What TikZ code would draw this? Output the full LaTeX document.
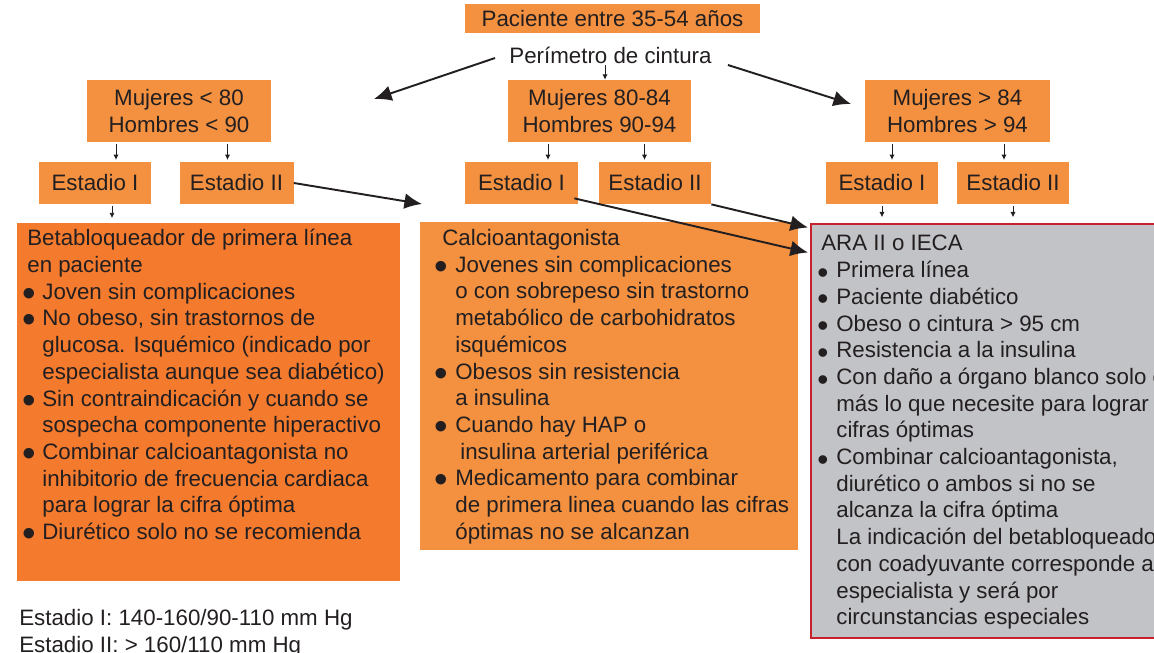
\documentclass[tikz,border=0pt]{standalone}
\usepackage{fontspec}
\setmainfont{Liberation Sans}
\usetikzlibrary{arrows.meta}
\definecolor{boxorange}{HTML}{F39140}
\definecolor{darkorange}{HTML}{F47A2E}
\definecolor{boxgrey}{HTML}{C2C3C7}
\definecolor{boxred}{HTML}{C8202F}
\definecolor{ink}{HTML}{231F20}
\newlength\px \setlength\px{0.02cm}
\newcommand\itm[1]{\makebox[#1\px][l]{\raisebox{-4pt}[0pt][0pt]{\fontsize{22}{22}\selectfont\textbullet}}}
\newcommand\itmb[1]{\makebox[#1\px][l]{\raisebox{-3.2pt}[0pt][0pt]{\fontsize{18}{18}\selectfont\textbullet}}}
\newcommand\cnt[1]{\hspace*{#1\px}}

\begin{document}
\begin{tikzpicture}[x=0.02cm,y=-0.02cm,
    box/.style={fill=boxorange,text=ink,inner sep=0pt,align=center,font=\fontsize{12.7}{15.2}\selectfont},
    boxsize/.style 2 args={minimum width=#1*0.02cm,minimum height=#2*0.02cm},
    listtext/.style={inner sep=0pt,anchor=north west,align=left,text=ink,font=\fontsize{12.7}{15.2}\selectfont},
    bigarrow/.style={draw=ink,line width=1.1pt,-{Latex[length=10pt,width=9pt]}},
    tinyarrow/.style={draw=ink,line width=0.5pt,-{Latex[length=3pt,width=3pt]},shorten <=1pt}]
  \useasboundingbox (0,0) rectangle (1154,653);
  \fill[white] (0,0) rectangle (1154,653);
  \clip (0,0) rectangle (1154,653);

  % top
  \node[box,boxsize={295}{29}] (pac) at (612.5,18.5) {Paciente entre 35-54 años};
  \node[box,fill=none] (perim) at (610.5,55) {Perímetro de cintura};

  % waist groups
  \node[box,boxsize={184}{62}] (mL) at (179,111) {Mujeres < 80\\Hombres < 90};
  \node[box,boxsize={183}{62}] (mM) at (599.5,111) {Mujeres 80-84\\Hombres 90-94};
  \node[box,boxsize={185}{62}] (mR) at (957.5,111) {Mujeres > 84\\Hombres > 94};

  % stages
  \node[box,boxsize={112}{42}] (eL1) at (95,183) {Estadio I};
  \node[box,boxsize={114}{42}] (eL2) at (236.5,183) {Estadio II};
  \node[box,boxsize={113}{42}] (eM1) at (521.5,183) {Estadio I};
  \node[box,boxsize={112}{42}] (eM2) at (655,183) {Estadio II};
  \node[box,boxsize={112}{42}] (eR1) at (882,183) {Estadio I};
  \node[box,boxsize={112}{42}] (eR2) at (1013,183) {Estadio II};

  % treatment boxes
  \node[box,fill=darkorange,boxsize={383}{358},anchor=north west] (beta) at (16.5,223) {};
  \node[box,boxsize={378}{328},anchor=north west] (calcio) at (420,222) {};
  \node[box,fill=boxgrey,draw=boxred,line width=1.2pt,boxsize={370}{414},anchor=north west] (ara) at (810,222.5) {};

  \node[listtext] (betatxt) at (22,229) {%
    \cnt{5}Betabloqueador de primera línea\\
    \cnt{5}en paciente\\
    \itm{20}Joven sin complicaciones\\
    \itm{20}No obeso, sin trastornos de\\
    \cnt{20}glucosa. Isquémico (indicado por\\
    \cnt{20}especialista aunque sea diabético)\\
    \itm{20}Sin contraindicación y cuando se\\
    \cnt{20}sospecha componente hiperactivo\\
    \itm{20}Combinar calcioantagonista no\\
    \cnt{20}inhibitorio de frecuencia cardiaca\\
    \cnt{20}para lograr la cifra óptima\\
    \itm{20}Diurético solo no se recomienda};

  \node[listtext] (calciotxt) at (434,229) {%
    \cnt{8}Calcioantagonista\\
    \itm{21}Jovenes sin complicaciones\\
    \cnt{21}o con sobrepeso sin trastorno\\
    \cnt{21}metabólico de carbohidratos\\
    \cnt{21}isquémicos\\
    \itm{21}Obesos sin resistencia\\
    \cnt{21}a insulina\\
    \itm{21}Cuando hay HAP o\\
    \cnt{26}insulina arterial periférica\\
    \itm{21}Medicamento para combinar\\
    \cnt{21}de primera linea cuando las cifras\\
    \cnt{21}óptimas no se alcanzan};

  \node[listtext] (aratxt) at (817,235) {%
    \cnt{4}ARA II o IECA\\
    \itmb{19}Primera línea\\
    \itmb{19}Paciente diabético\\
    \itmb{19}Obeso o cintura > 95 cm\\
    \itmb{19}Resistencia a la insulina\\
    \itmb{19}Con daño a órgano blanco solo o\\
    \cnt{19}más lo que necesite para lograr\\
    \cnt{19}cifras óptimas\\
    \itmb{19}Combinar calcioantagonista,\\
    \cnt{19}diurético o ambos si no se\\
    \cnt{19}alcanza la cifra óptima\\
    \cnt{19}La indicación del betabloqueador\\
    \cnt{19}con coadyuvante corresponde al\\
    \cnt{19}especialista y será por\\
    \cnt{19}circunstancias especiales};

  \node[listtext] (stages) at (19,609) {Estadio I: 140-160/90-110 mm Hg\\Estadio II: > 160/110 mm Hg};

  % arrows
  \coordinate (tipL) at (374,99);
  \coordinate (tipR) at (851,104);
  \coordinate (tipC) at ([shift={(2,-18)}]calcio.north west);
  \coordinate (tipA1) at ([shift={(-2,5)}]ara.north west);
  \coordinate (tipA2) at ([shift={(-2,30)}]ara.north west);
  \draw[bigarrow] ([shift={(-14,3)}]perim.west) -- (tipL);
  \draw[bigarrow] ([shift={(16,10)}]perim.east) -- (tipR);
  \draw[tinyarrow] ([xshift=-0.11cm]perim.south) -- ([xshift=-0.11cm]perim.south |- mM.north);
  \foreach \a/\b/\dx in {mL/eL1/21, mL/eL2/-9, mM/eM1/26.5, mM/eM2/-10.5, mR/eR1/10, mR/eR2/-9}
    \draw[tinyarrow,shorten >=1pt] ([xshift=\dx*0.02cm]\b.north |- \a.south) -- ([xshift=\dx*0.02cm]\b.north);
  \draw[tinyarrow,shorten >=2.8pt] ([xshift=17*0.02cm]eL1.south) -- ([xshift=17*0.02cm]eL1.south |- beta.north);
  \foreach \b in {eR1,eR2}
    \draw[tinyarrow,shorten >=3pt] (\b.south) -- (\b.south |- ara.north);
  \draw[bigarrow] (eL2.east) -- (tipC);
  \draw[bigarrow] (eM2.south east) -- (tipA1);
  \draw[bigarrow] ([shift={(-4,-6)}]eM1.south east) -- (tipA2);
\end{tikzpicture}
\end{document}
